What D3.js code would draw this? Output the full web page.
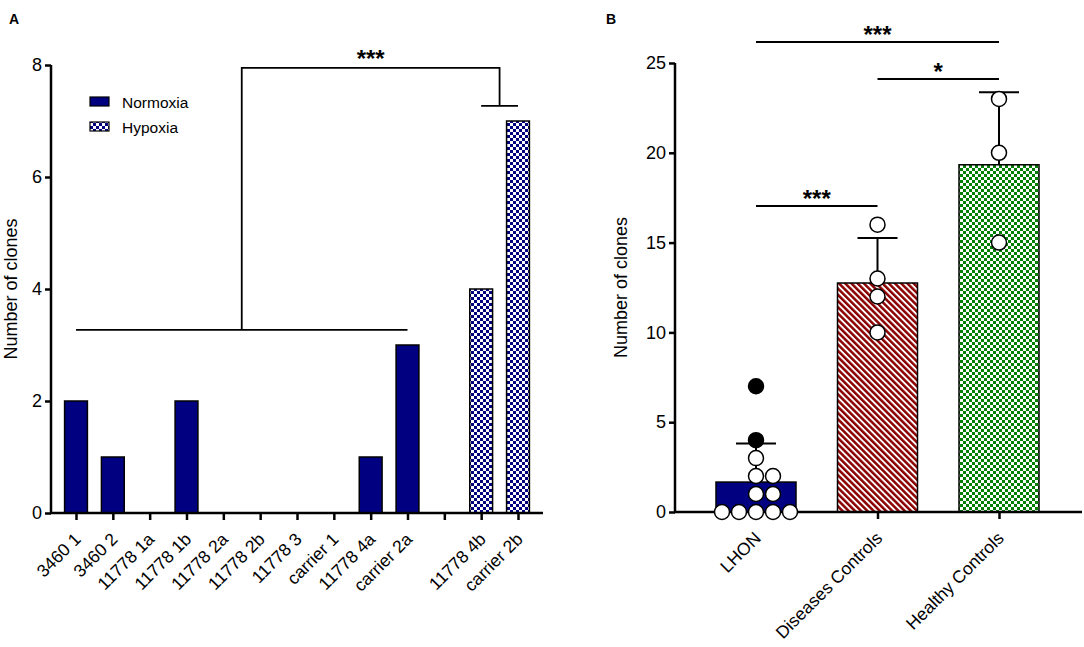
<!DOCTYPE html>
<html>
<head>
<meta charset="utf-8">
<script src="https://cdn.jsdelivr.net/npm/d3@7"></script>
<style>
  body { margin: 0; background: #fff; }
  text { font-family: "Liberation Sans", Arial, sans-serif; }
</style>
</head>
<body>
<script>
// ---- Panel A data ----
const cloneNames = ["3460 1", "3460 2", "11778 1a", "11778 1b", "11778 2a", "11778 2b", "11778 3",
  "carrier 1", "11778 4a", "carrier 2a", "gap", "11778 4b", "carrier 2b"];
const cloneValues = [2, 1, 0, 2, 0, 0, 0, 0, 1, 3, null, 4, 7];
const cloneCondition = ["N", "N", "N", "N", "N", "N", "N", "N", "N", "N", null, "H", "H"];
const legendLabels = ["Normoxia", "Hypoxia"];
const ticksA = [0, 2, 4, 6, 8];

// ---- Panel B data ----
const groups = ["LHON", "Diseases Controls", "Healthy Controls"];
const lhonPoints = [0, 0, 0, 0, 0, 1, 1, 2, 2, 3, 4, 7];
const lhonSolid = [false, false, false, false, false, false, false, false, false, false, true, true];
const diseasePoints = [16, 13, 12, 10];
const healthyPoints = [23, 20, 15];
const ticksB = [0, 5, 10, 15, 20, 25];

const W = 1084, H = 647;
const svg = d3.select("body").append("svg").attr("width", W).attr("height", H);

// patterns
const defs = svg.append("defs");
function checker(id, color) {
  const p = defs.append("pattern").attr("id", id).attr("patternUnits", "userSpaceOnUse")
    .attr("width", 6).attr("height", 6);
  p.append("rect").attr("width", 6).attr("height", 6).attr("fill", "#fff");
  p.append("rect").attr("width", 3).attr("height", 3).attr("fill", color);
  p.append("rect").attr("x", 3).attr("y", 3).attr("width", 3).attr("height", 3).attr("fill", color);
}
checker("chkNavy", "#000080");
checker("chkGreen", "#008000");
const st = defs.append("pattern").attr("id", "stripes").attr("patternUnits", "userSpaceOnUse")
  .attr("width", 4.4).attr("height", 8).attr("patternTransform", "rotate(-45)");
st.append("rect").attr("width", 4.4).attr("height", 8).attr("fill", "#fff");
st.append("rect").attr("width", 2.5).attr("height", 8).attr("fill", "#8b0000");

function styleAxis(g) {
  g.select(".domain").remove();
  g.selectAll(".tick line").attr("stroke", "#000").attr("stroke-width", 2.5);
  g.selectAll(".tick text").attr("fill", "#000");
}

function sigText(x, y, t) {
  svg.append("text").attr("x", x).attr("y", y).attr("text-anchor", "middle")
    .attr("font-size", 24).attr("font-weight", "bold").text(t);
}

// ================= Panel A =================
const yA = d3.scaleLinear().domain([0, 8]).range([513, 65]);
const xA = d3.scalePoint().domain(cloneNames).range([76, 518]);
const bwA = xA.step() * 0.62;
const axA = { x0: 51, x1: 543 };

svg.append("text").attr("x", 9).attr("y", 24).attr("font-size", 14).attr("font-weight", "bold").text("A");

svg.append("g").selectAll("rect")
  .data(cloneNames.map((n, i) => ({ n, v: cloneValues[i], c: cloneCondition[i] })).filter(d => d.v))
  .join("rect")
  .attr("x", d => xA(d.n) - bwA / 2)
  .attr("y", d => yA(d.v))
  .attr("width", bwA)
  .attr("height", d => yA(0) - yA(d.v))
  .attr("fill", d => d.c === "H" ? "url(#chkNavy)" : "#000080")
  .attr("stroke", "#000").attr("stroke-width", 1.5);

svg.append("g").attr("transform", `translate(${axA.x0},0)`)
  .call(d3.axisLeft(yA).tickValues(ticksA).tickSize(6).tickSizeOuter(0).tickPadding(3))
  .call(styleAxis)
  .call(g => g.selectAll(".tick text").attr("font-size", 18));

const gxA = svg.append("g").attr("transform", `translate(0,${yA(0)})`)
  .call(d3.axisBottom(xA).tickSize(7).tickSizeOuter(0))
  .call(styleAxis);
gxA.selectAll(".tick text")
  .text(d => d === "gap" ? "" : d)
  .attr("font-size", 17.5)
  .attr("text-anchor", "end")
  .attr("transform", "translate(1,23) rotate(-45)")
  .attr("dy", "0.35em").attr("y", 0);

svg.append("path").attr("fill", "none").attr("stroke", "#000").attr("stroke-width", 2.5)
  .attr("d", `M${axA.x0},${yA(8)}V${yA(0)}H${axA.x1}`);

svg.append("text").attr("transform", `translate(17,${(yA(0) + yA(8)) / 2}) rotate(-90)`)
  .attr("text-anchor", "middle").attr("font-size", 18).text("Number of clones");

// legend
const lg = svg.append("g");
legendLabels.forEach((l, i) => {
  lg.append("rect").attr("x", 90).attr("y", 97 + i * 25).attr("width", 19).attr("height", 9)
    .attr("fill", i === 0 ? "#000080" : "url(#chkNavy)").attr("stroke", "#000").attr("stroke-width", 1.2);
  lg.append("text").attr("x", 122).attr("y", 108 + i * 25).attr("font-size", 15.5).text(l);
});

// bracket A
const leftMid = (xA(cloneNames[0]) + xA(cloneNames[9])) / 2;
const rightMid = (xA(cloneNames[11]) + xA(cloneNames[12])) / 2;
svg.append("path").attr("fill", "none").attr("stroke", "#000").attr("stroke-width", 1.8)
  .attr("d", `M${xA(cloneNames[0])},${yA(3.27)}H${xA(cloneNames[9])}` +
    `M${leftMid},${yA(3.27)}V${yA(7.95)}H${rightMid}V${yA(7.27)}` +
    `M${xA(cloneNames[11])},${yA(7.27)}H${xA(cloneNames[12])}`);
sigText((leftMid + rightMid) / 2, yA(7.95) - 1, "***");

// ================= Panel B =================
const yB = d3.scaleLinear().domain([0, 25]).range([512, 63]);
const xB = d3.scalePoint().domain(groups).range([756, 999]);
const bwB = 80;
const axB = { x0: 675, x1: 1082 };

svg.append("text").attr("x", 606).attr("y", 24).attr("font-size", 14).attr("font-weight", "bold").text("B");

const pointSets = [lhonPoints, diseasePoints, healthyPoints];
const fills = ["#000080", "url(#stripes)", "url(#chkGreen)"];
const stats = pointSets.map((p, i) => ({ g: groups[i], m: d3.mean(p), sd: d3.deviation(p), f: fills[i] }));

svg.append("g").selectAll("rect").data(stats).join("rect")
  .attr("x", d => xB(d.g) - bwB / 2)
  .attr("y", d => yB(d.m))
  .attr("width", bwB)
  .attr("height", d => yB(0) - yB(d.m))
  .attr("fill", d => d.f)
  .attr("stroke", "#000").attr("stroke-width", 1.5);

// error bars (mean + SD)
const eb = svg.append("g").attr("stroke", "#000").attr("stroke-width", 2);
stats.forEach(d => {
  eb.append("line").attr("x1", xB(d.g)).attr("x2", xB(d.g)).attr("y1", yB(d.m)).attr("y2", yB(d.m + d.sd));
  eb.append("line").attr("x1", xB(d.g) - 20).attr("x2", xB(d.g) + 20).attr("y1", yB(d.m + d.sd)).attr("y2", yB(d.m + d.sd));
});

svg.append("g").attr("transform", `translate(${axB.x0},0)`)
  .call(d3.axisLeft(yB).tickValues(ticksB).tickSize(6).tickSizeOuter(0).tickPadding(3))
  .call(styleAxis)
  .call(g => g.selectAll(".tick text").attr("font-size", 18));

const gxB = svg.append("g").attr("transform", `translate(0,${yB(0)})`)
  .call(d3.axisBottom(xB).tickSize(7).tickSizeOuter(0))
  .call(styleAxis);
gxB.selectAll(".tick text")
  .attr("font-size", 17.5)
  .attr("text-anchor", "end")
  .attr("transform", "translate(1,23) rotate(-45)")
  .attr("dy", "0.35em").attr("y", 0);

svg.append("path").attr("fill", "none").attr("stroke", "#000").attr("stroke-width", 2.5)
  .attr("d", `M${axB.x0},${yB(25)}V${yB(0)}H${axB.x1}`);

svg.append("text").attr("transform", `translate(627,${(yB(0) + yB(25)) / 2}) rotate(-90)`)
  .attr("text-anchor", "middle").attr("font-size", 18).text("Number of clones");

// points: simple swarm, rows with same value spread sideways
const r = 7.5, sp = 17;
const pts = [];
pointSets.forEach((p, gi) => {
  const used = {};
  p.forEach((v, i) => {
    const k = used[v] || 0; used[v] = k + 1;
    const off = k === 0 ? 0 : (k % 2 ? 1 : -1) * Math.ceil(k / 2);
    pts.push({ x: xB(groups[gi]) + off * sp, y: yB(v), solid: gi === 0 && lhonSolid[i] });
  });
});
svg.append("g").selectAll("circle").data(pts).join("circle")
  .attr("cx", d => d.x).attr("cy", d => d.y).attr("r", r)
  .attr("fill", d => d.solid ? "#000" : "#fff")
  .attr("stroke", "#000").attr("stroke-width", 1.5);

// significance bars B
const sig = [
  { a: 0, b: 2, y: 42, t: "***" },
  { a: 1, b: 2, y: 79, t: "*" },
  { a: 0, b: 1, y: 206, t: "***" }
];
sig.forEach(s => {
  const xa = xB(groups[s.a]), xb = xB(groups[s.b]);
  svg.append("line").attr("x1", xa).attr("x2", xb).attr("y1", s.y).attr("y2", s.y)
    .attr("stroke", "#000").attr("stroke-width", 2);
  sigText((xa + xb) / 2, s.y + 1, s.t);
});
</script>
</body>
</html>
